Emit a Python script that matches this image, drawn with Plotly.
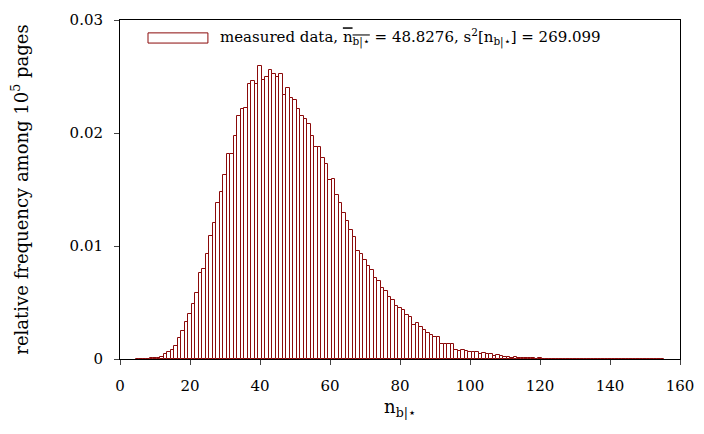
import plotly.graph_objects as go

# n_b|* values (integer bins) and their relative frequencies
n_values = list(range(5, 156))
freq_low = [0.00001, 0.00001, 0.00002, 0.00003, 0.00005, 0.00008, 0.00012,   # 5-11
            0.0002, 0.0004, 0.0006, 0.00082, 0.00115, 0.0019, 0.0025, 0.0033,  # 12-19
            0.0040, 0.0049, 0.0058, 0.0076, 0.0080, 0.0093, 0.0109, 0.0120,   # 20-27
            0.0138, 0.0148, 0.0163, 0.0181, 0.0181, 0.0197, 0.0215, 0.0221,   # 28-35
            0.0222, 0.0243, 0.0246, 0.0243, 0.0259, 0.0247, 0.0250, 0.0256,   # 36-43
            0.0252, 0.0250, 0.0252, 0.0234, 0.0240, 0.0231, 0.0229, 0.0221,   # 44-51
            0.0215, 0.0212, 0.0208, 0.0197, 0.0188, 0.0188, 0.0178, 0.0173,   # 52-59
            0.0158, 0.0159, 0.0145, 0.0138, 0.0129, 0.0122, 0.0114, 0.0108,   # 60-67
            0.0096, 0.0093, 0.0088, 0.0082, 0.0079, 0.0072, 0.0069, 0.0063,   # 68-75
            0.0060, 0.0055, 0.0052, 0.0047, 0.00449, 0.0043, 0.00387, 0.0037,  # 76-83
            0.00304, 0.00316, 0.00283, 0.00254, 0.00227, 0.0021, 0.00192, 0.00192,  # 84-91
            0.00133, 0.00135, 0.00135, 0.0013, 0.00082, 0.00073, 0.0008, 0.00068,   # 92-99
            0.00059, 0.00059, 0.00059, 0.00044, 0.0005, 0.00044, 0.0004, 0.00027,   # 100-107
            0.00032, 0.00024, 0.00015, 0.00015, 0.00012, 0.00015, 0.00006, 0.00006,  # 108-115
            0.00008, 0.0001, 0.00005, 0.00004, 0.00005, 0.00003, 0.00004, 0.00002]   # 116-123
freq_tail = [0.00001] * (len(n_values) - len(freq_low))                            # 124-155
frequency = freq_low + freq_tail

x_ticks = [0, 20, 40, 60, 80, 100, 120, 140, 160]
y_ticks = [0, 0.01, 0.02, 0.03]
y_tick_labels = ["0", "0.01", "0.02", "0.03"]

mean_val = "48.8276"
var_val = "269.099"

DARKRED = "#8b0a0a"
FONT = "DejaVu Serif"

fig = go.Figure()
fig.add_trace(go.Bar(
    x=n_values, y=frequency, width=1,
    marker=dict(color="white", line=dict(color=DARKRED, width=1)),
    showlegend=False,
))

legend_text = ("measured data, <span style='text-decoration:overline'>n<sub>b|⋆</sub></span>"
               f" = {mean_val}, s<sup>2</sup>[n<sub>b|⋆</sub>] = {var_val}")

fig.update_layout(
    width=704, height=434,
    margin=dict(l=112, r=32, t=12, b=83),
    paper_bgcolor="white", plot_bgcolor="white",
    font=dict(family=FONT, size=15, color="black"),
    bargap=0,
    xaxis=dict(range=[0, 160], tickvals=x_ticks, ticks="outside", ticklen=5,
               showline=True, linecolor="black", linewidth=1, mirror=True,
               showgrid=False, zeroline=False, ticklabelstandoff=8,
               automargin=False,
               title=dict(text="n<sub>b|⋆</sub>", standoff=6)),
    yaxis=dict(range=[0, 0.03], tickvals=y_ticks, ticktext=y_tick_labels,
               ticks="outside", ticklen=5,
               showline=True, linecolor="black", linewidth=1, mirror=True,
               showgrid=False, zeroline=False, ticklabelstandoff=8,
               automargin=False,
               title=dict(text="relative frequency among 10<sup>5</sup> pages", standoff=40)),
    shapes=[dict(type="rect", xref="paper", yref="paper",
                 x0=0.05, x1=0.157, y0=0.932, y1=0.962,
                 line=dict(color=DARKRED, width=1), fillcolor="white")],
    annotations=[dict(xref="paper", yref="paper", x=0.175, y=0.947,
                      xanchor="left", yanchor="middle", showarrow=False,
                      text=legend_text, font=dict(family=FONT, size=15))],
)

fig.write_html("out.html")
